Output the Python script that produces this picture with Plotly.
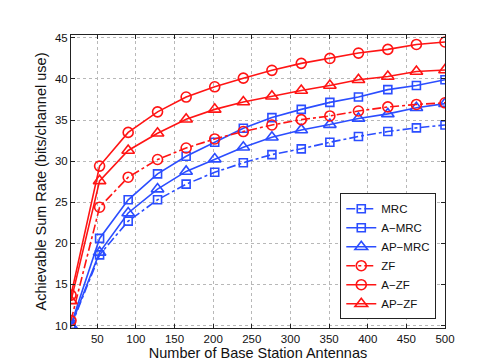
import plotly.graph_objects as go

# Data ---------------------------------------------------------------------------

antennas = [16, 53, 90, 128, 165, 202, 239, 276, 314, 351, 388, 426, 463, 500]

rate_mrc = [9.9, 18.6, 22.7, 25.3, 27.2, 28.65, 29.8, 30.8, 31.5, 32.3, 33.0, 33.6, 34.05, 34.4]
rate_a_mrc = [10.1, 20.6, 25.3, 28.45, 30.6, 32.3, 34.0, 35.3, 36.3, 37.15, 37.8, 38.7, 39.2, 39.9]
rate_ap_mrc = [10.0, 18.9, 23.7, 26.6, 28.75, 30.25, 31.7, 32.9, 33.8, 34.45, 35.2, 35.75, 36.5, 37.0]
rate_zf = [10.6, 24.4, 28.05, 30.2, 31.6, 32.7, 33.6, 34.4, 35.05, 35.5, 36.1, 36.6, 36.9, 37.1]
rate_a_zf = [13.7, 29.4, 33.5, 36.0, 37.8, 39.05, 40.1, 41.05, 41.9, 42.5, 43.15, 43.6, 44.2, 44.5]
rate_ap_zf = [13.0, 27.6, 31.3, 33.4, 35.1, 36.3, 37.2, 37.9, 38.6, 39.2, 39.9, 40.3, 40.9, 41.1]

x_ticks = [50, 100, 150, 200, 250, 300, 350, 400, 450, 500]
y_ticks = [10, 15, 20, 25, 30, 35, 40, 45]

BLUE = "#2b4dff"
RED = "#ff1414"

# (name, values, colour, dash, marker symbol, marker size)
series = [
    ("MRC", rate_mrc, BLUE, "dashdot", "square-open", 8),
    ("A\u2212MRC", rate_a_mrc, BLUE, "solid", "square-open", 8),
    ("AP\u2212MRC", rate_ap_mrc, BLUE, "solid", "triangle-up-open", 11),
    ("ZF", rate_zf, RED, "dashdot", "circle-open", 10),
    ("A\u2212ZF", rate_a_zf, RED, "solid", "circle-open", 10),
    ("AP\u2212ZF", rate_ap_zf, RED, "solid", "triangle-up-open", 11),
]

fig = go.Figure()

for name, vals, color, dash, symbol, size in series:
    fig.add_trace(go.Scatter(
        x=antennas,
        y=vals,
        name=name,
        mode="lines+markers",
        line=dict(color=color, width=1.6, dash=dash),
        marker=dict(symbol=symbol, size=size, color=color, line=dict(width=1.6, color=color)),
    ))

axis_common = dict(
    showline=True,
    linecolor="#222222",
    linewidth=1,
    mirror="ticks",
    ticks="inside",
    ticklen=4,
    tickcolor="#222222",
    showgrid=True,
    gridcolor="#b8b8b8",
    griddash="dot",
    gridwidth=1,
    zeroline=False,
    tickfont=dict(size=11.5, color="#111111"),
)

fig.update_xaxes(
    range=[16, 500],
    tickvals=x_ticks,
    title=dict(text="Number of Base Station Antennas", font=dict(size=14.5, color="#111111"), standoff=1),
    **axis_common,
)
fig.update_yaxes(
    range=[9.7, 45.35],
    tickvals=y_ticks,
    title=dict(text="Achievable Sum Rate (bits/channel use)", font=dict(size=14.5, color="#111111"), standoff=4),
    **axis_common,
)

fig.update_layout(
    width=482,
    height=362,
    margin=dict(l=63, r=45, t=27, b=42),
    paper_bgcolor="white",
    plot_bgcolor="white",
    font=dict(family="Liberation Sans, Arial, sans-serif", color="#111111"),
    legend=dict(
        x=0.72,
        y=0.03,
        xanchor="left",
        yanchor="bottom",
        bgcolor="white",
        bordercolor="#222222",
        borderwidth=1,
        font=dict(size=11.5),
        itemwidth=30,
        tracegroupgap=0,
    ),
)

fig.write_html("out.html")
